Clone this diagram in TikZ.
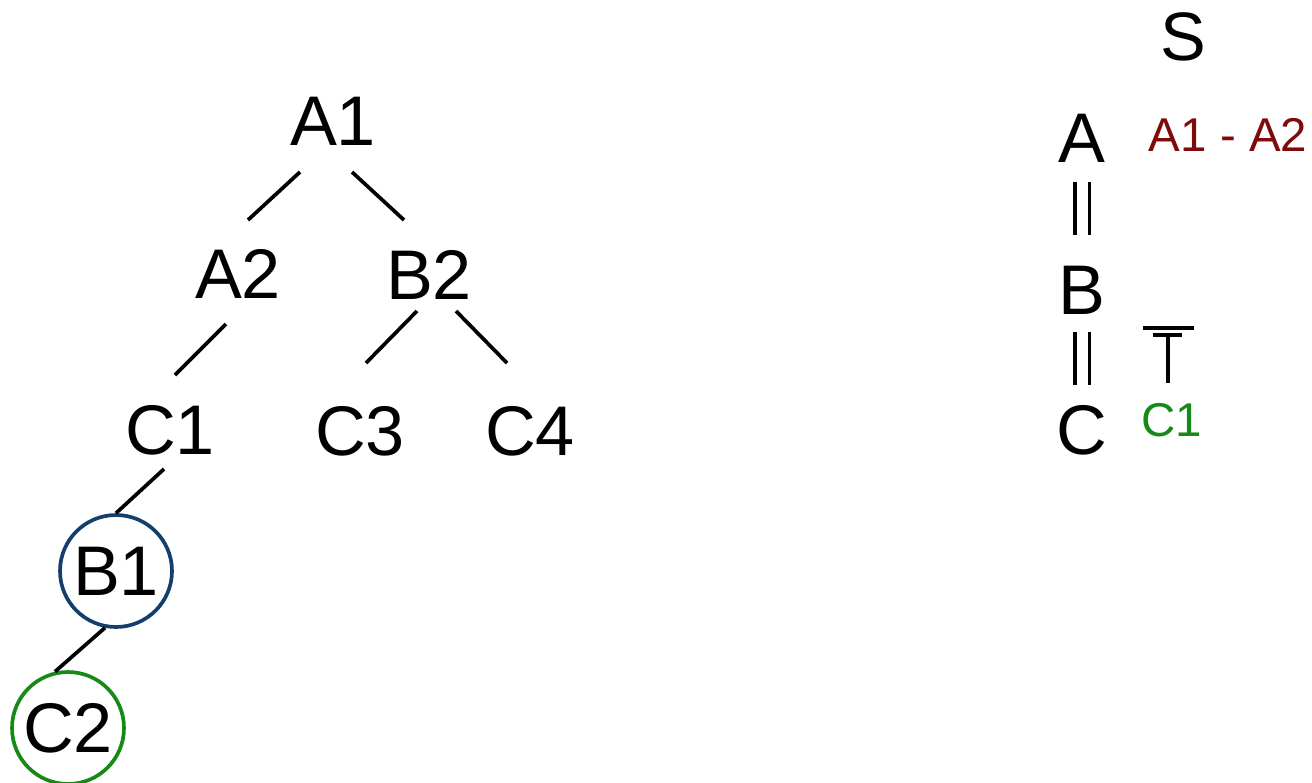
\documentclass[tikz,border=0pt]{standalone}
\usepackage{fontspec}
\setmainfont{Liberation Sans}
\usepackage{tikz}
\usetikzlibrary{calc}
\definecolor{arbazul}{HTML}{123F6E}
\definecolor{arbverde}{HTML}{168A16}
\definecolor{arbrojo}{HTML}{7F0A0A}
\tikzset{
  letra/.style={inner sep=0pt, font=\fontsize{40}{48}\selectfont},
  chica/.style={inner sep=0pt, font=\fontsize{27}{32}\selectfont},
  nodo/.style={letra, circle, draw, line width=2.1pt, minimum size=2.24cm},
  rama/.style={line width=2.1pt, line cap=butt},
}

\begin{document}
\begin{tikzpicture}[x=0.02cm, y=-0.02cm]
  \useasboundingbox (0,0) rectangle (1312,782);
  % arbol
  \node[letra] (a1) at (333,121) {A1};
  \node[letra] (a2) at (238,274) {A2};
  \node[letra] (b2) at (429,275) {B2};
  \node[letra] (c1) at (170,430) {C1};
  \node[letra] (c3) at (360,431) {C3};
  \node[letra] (c4) at (530,431) {C4};
  \node[nodo, draw=arbazul] (b1) at (116,571) {B1};
  \node[nodo, draw=arbverde] (c2) at (68,728) {C2};
  \draw[rama] ($(a1)+(-33,51)$) -- ($(a2)+(10,-54)$);
  \draw[rama] ($(a1)+(19,51)$) -- ($(b2)+(-25,-55)$);
  \draw[rama] ($(a2)+(-12,50)$) -- ($(c1)+(5,-55)$);
  \draw[rama] ($(b2)+(-12,36)$) -- ($(c3)+(6,-68)$);
  \draw[rama] ($(b2)+(27,36)$) -- ($(c4)+(-23,-68)$);
  \draw[rama] ($(c1)+(-6,39)$) -- (b1.north);
  \draw[rama] (b1.259) -- (c2.103);
  % esquema
  \node[letra, font=\fontsize{39}{46}\selectfont] (s) at (1183,37) {S};
  \node[letra] (a) at (1082,138) {A};
  \node[letra] (b) at (1082,290) {B};
  \node[letra] (c) at (1082,430) {C};
  \node[chica, text=arbrojo] (aa) at (1228,135) {A1 - A2};
  \node[chica, text=arbverde] (cc) at (1172,420) {C1};
  \draw[rama, double, double distance=0.22cm] ($(a.center)+(0,44)$) -- ($(b.center)+(0,-55)$);
  \draw[rama, double, double distance=0.22cm] ($(b.center)+(0,42)$) -- ($(c.center)+(0,-45)$);
  \coordinate (tope) at ($(cc)+(-4,-85)$);
  \draw[rama] ($(tope)+(-25,-7)$) -- ($(tope)+(26,-7)$);
  \draw[rama] ($(tope)+(-15,0)$) -- ($(tope)+(14,0)$);
  \draw[rama] (tope) -- ($(tope)+(0,48)$);
\end{tikzpicture}
\end{document}
